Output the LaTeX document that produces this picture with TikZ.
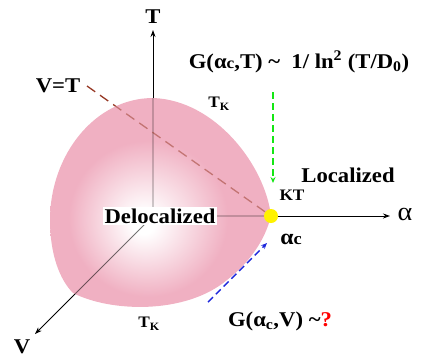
\documentclass[tikz,border=0pt]{standalone}
\usepackage{fontspec}
\setmainfont{Liberation Serif}[FakeStretch=1.08]
\usetikzlibrary{arrows.meta}
\definecolor{blobpink}{RGB}{240,176,194}
\definecolor{vtbrown}{RGB}{150,55,35}
\definecolor{dashgreen}{RGB}{20,230,20}
\definecolor{dashblue}{RGB}{30,40,220}
\pgfdeclareradialshading{blobshade}{\pgfpoint{-4bp}{-4bp}}{color(0bp)=(white); color(2.5bp)=(white); color(18bp)=(blobpink); color(60bp)=(blobpink)}
\begin{document}
\begin{tikzpicture}[x=1pt,y=-1pt,
  axis/.style={line width=0.9pt, -{Stealth[length=7pt,width=5pt]}},
  vtline/.style={vtbrown, line width=1.3pt, dash pattern=on 10pt off 6pt},
  big/.style={font=\fontsize{21}{24}\selectfont\bfseries, inner sep=0pt},
  mid/.style={font=\fontsize{16}{18}\selectfont\bfseries, inner sep=0pt},
  dasharrow/.style={line width=1.4pt, dash pattern=on 7pt off 4pt, -{Stealth[length=6pt,width=5pt]}}]
\useasboundingbox (0,0) rectangle (423,360);
\def\blobpath{(271,216) .. controls (265,165) and (215,100) .. (153,98)
  .. controls (95,98) and (50,155) .. (50,220)
  .. controls (50,255) and (60,280) .. (73,293)
  .. controls (110,312) and (185,315) .. (227,280)
  .. controls (250,262) and (265,240) .. (271,216) -- cycle}
% axes
\coordinate (O) at (153,216);
\coordinate (Ttip) at (153,30);
\coordinate (Atip) at (390,216);
\coordinate (Vtip) at (35,334);
\coordinate (VTstart) at (87,86);
\coordinate (KTc) at (271,216);
\draw[axis] (O) -- (Ttip);
\draw[axis] (O) -- (Atip);
\draw[axis] (O) -- (Vtip);
\draw[vtline] (VTstart) -- (KTc);
% blob
\path[shading=blobshade] \blobpath;
\begin{scope}
  \clip \blobpath;
  \draw[line width=0.9pt, draw opacity=0.55] (O) -- (Ttip) (O) -- (Atip) (O) -- (Vtip);
  \draw[vtline, draw opacity=0.5] (VTstart) -- (KTc);
\end{scope}
\node[circle, fill=yellow, minimum size=14pt, inner sep=0pt] (KTpt) at (KTc) {};
\node[big, fill=white, inner sep=1.5pt] (deloc) at (160,216) {Delocalized};
% labels
\node[big] (Tlab) at (153,17) {T};
\node[big] (Vlab) at (22,347) {V};
\node[font=\fontsize{26}{28}\selectfont, inner sep=0pt] (alab) at (405,214) {α};
\node[big] (VTlab) at (58,86) {V=T};
\node[mid] (TKtop) at (219,104) {T\textsubscript{K}};
\node[mid] (TKbot) at (149,324) {T\textsubscript{K}};
\node[big] (loc) at (348,175) {Localized};
\node[mid] (KT) at (292,195) {KT};
\node[font=\fontsize{22}{24}\selectfont\bfseries, inner sep=0pt] (ac) at (291,239) {α{\fontsize{17}{18}\selectfont c}};
\node[big] (GT) at (299,62) {G(α{\fontsize{16}{18}\selectfont c},T) \textasciitilde{}\ \ 1/ ln\textsuperscript{2} (T/D\textsubscript{0})};
\node[big] (GV) at (280,321) {G(α\textsubscript{c},V) \textasciitilde{}\textcolor{red}{?}};
% arrows
\coordinate (gs) at (273,92);
\coordinate (ge) at (273,183);
\coordinate (bs) at (208,302);
\coordinate (be) at (267,243);
\draw[dasharrow, dashgreen] (gs) -- (ge);
\draw[dasharrow, dashblue] (bs) -- (be);
\end{tikzpicture}
\end{document}
